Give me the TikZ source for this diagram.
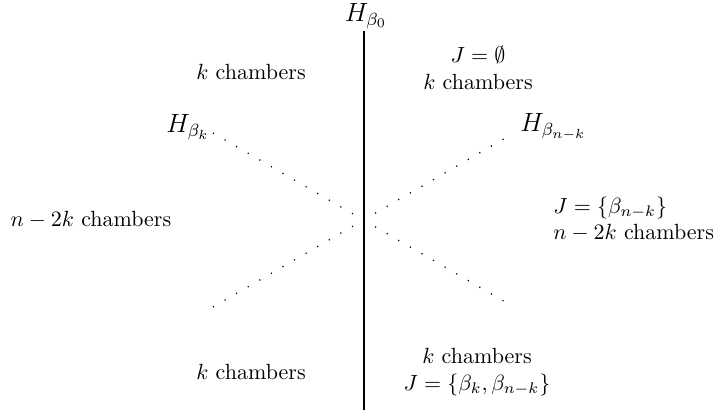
\documentclass[tikz,border=0pt]{standalone}
\usepackage{amssymb}
\begin{document}
\begin{tikzpicture}[x=0.4545pt,y=-0.4545pt,
  lbl/.style={inner sep=0pt,align=center},
  hlbl/.style={inner sep=0pt,font=\large},
  hyper/.style={line width=0.8pt},
  dotline/.style={line width=0.6pt,dash pattern=on 0.5pt off 5.58pt}]
\useasboundingbox (0,0) rectangle (719,412);
% hyperplane H_beta0
\coordinate (vtop) at (364,31);
\coordinate (vbot) at (364,410);
\draw[hyper] (vtop) -- (vbot);
\node[hlbl] (h0) at (366,16) {$H_{\beta_0}$};
% dotted hyperplanes
\coordinate (ul) at (213,133);
\coordinate (lr) at (514,307);
\coordinate (ll) at (213,307);
\coordinate (ur) at (514,133);
\draw[dotline] (ul) -- (lr);
\draw[dotline] (ll) -- (ur);
\node[hlbl,anchor=east] (hk) at (210,127) {$H_{\beta_k}$};
\node[hlbl,anchor=west] (hnk) at (520,127) {$H_{\beta_{n-k}}$};
% chamber labels
\node[lbl] (c1) at (251,72) {$k$ chambers};
\node[lbl] (c2) at (478,68) {$J=\emptyset$\\$k$ chambers};
\node[lbl] (c3) at (91,220) {$n-2k$ chambers};
\node[lbl,align=left,anchor=west] (c4) at (553,219) {$J=\{\beta_{n-k}\}$\\$n-2k$ chambers};
\node[lbl] (c5) at (251,372) {$k$ chambers};
\node[lbl] (c6) at (477,372) {$k$ chambers\\$J=\{\beta_k,\beta_{n-k}\}$};
\end{tikzpicture}
\end{document}
